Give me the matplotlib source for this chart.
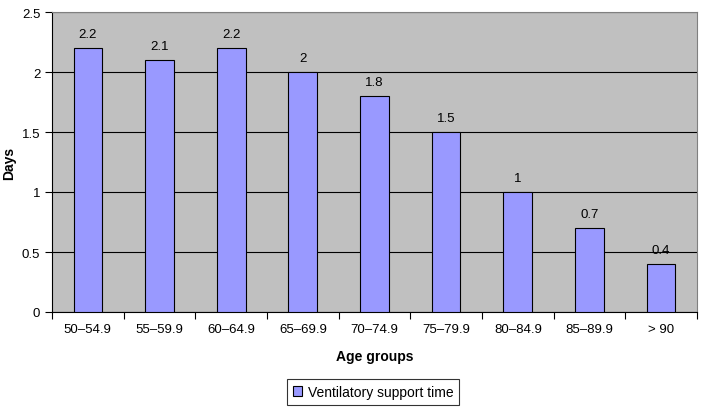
import matplotlib
matplotlib.use("Agg")
import matplotlib.pyplot as plt
from matplotlib.patches import Patch

plt.rcParams['font.family'] = ['Liberation Sans', 'DejaVu Sans']

categories = ["50–54.9", "55–59.9", "60–64.9", "65–69.9", "70–74.9", "75–79.9", "80–84.9", "85–89.9", "> 90"]
values = [2.2, 2.1, 2.2, 2, 1.8, 1.5, 1, 0.7, 0.4]
labels = ["2.2", "2.1", "2.2", "2", "1.8", "1.5", "1", "0.7", "0.4"]
series_name = "Ventilatory support time"

fig = plt.figure(figsize=(7.04, 4.10), dpi=100)
ax = fig.add_axes([52/704, 1-313/410, (697-52)/704, (313-13)/410])
ax.set_facecolor('#C0C0C0')

x = list(range(len(categories)))
ax.bar(x, values, width=0.4, color='#9999FF', edgecolor='black', linewidth=0.8, zorder=3)
for xi, v, l in zip(x, values, labels):
    ax.text(xi, v + 0.07, l, ha='center', va='bottom', fontsize=9.5, zorder=4)

ax.set_xlim(-0.5, len(categories) - 0.5)
ax.set_ylim(0, 2.5)
ax.set_yticks([0, 0.5, 1, 1.5, 2, 2.5])
ax.set_yticklabels(["0", "0.5", "1", "1.5", "2", "2.5"], fontsize=9.5)
ax.yaxis.grid(True, color='black', linewidth=0.8, zorder=1)
ax.set_axisbelow(True)

ax.set_xticks(x)
ax.set_xticklabels(categories, fontsize=9.5)
ax.tick_params(axis='x', length=0, pad=8)
ax.set_xticks([i + 0.5 for i in range(-1, len(categories))], minor=True)
ax.tick_params(axis='x', which='minor', length=5, width=0.8, direction='out')
ax.tick_params(axis='y', length=5, width=0.8, direction='out')

for s in ['top', 'right']:
    ax.spines[s].set_color('#808080')
    ax.spines[s].set_linewidth(0.8)
for s in ['left', 'bottom']:
    ax.spines[s].set_color('black')
    ax.spines[s].set_linewidth(0.8)

ax.set_xlabel("Age groups", fontsize=10, fontweight='bold', labelpad=10)
ax.set_ylabel("Days", fontsize=10, fontweight='bold')
ax.yaxis.set_label_coords((16 - 52) / 645, 0.5)

handle = Patch(facecolor='#9999FF', edgecolor='black', linewidth=0.8)
leg = fig.legend([handle], [series_name], loc='center', bbox_to_anchor=(373/704, 1-393/410),
                 fontsize=10, frameon=True, fancybox=False, edgecolor='black',
                 handlelength=0.7, handleheight=0.7, handletextpad=0.4, borderpad=0.4)
leg.get_frame().set_linewidth(0.8)

fig.savefig("out.png", dpi=100)
